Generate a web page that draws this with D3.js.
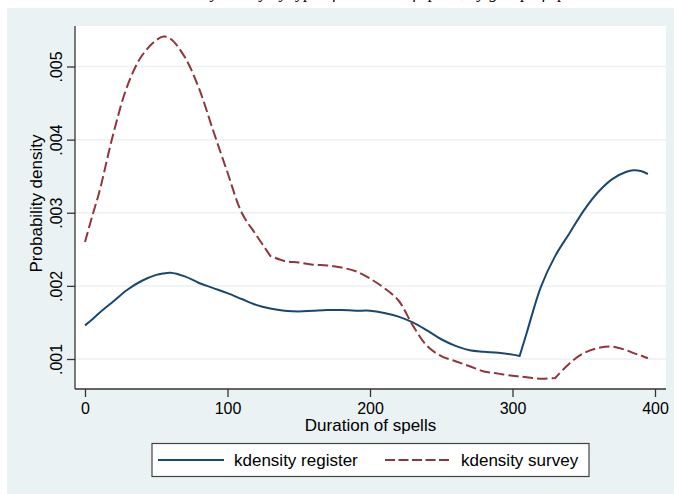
<!DOCTYPE html>
<html>
<head>
<meta charset="utf-8">
<script src="https://cdn.jsdelivr.net/npm/d3@7"></script>
<style>
  body { margin: 0; background: #fff; }
  text { font-family: "Liberation Sans", Arial, sans-serif; fill: #000; }
</style>
</head>
<body>
<div id="chart-area"></div>
<script>
// values (density in units of 0.001)
const durations = [0, 5, 10, 20, 30, 40, 50, 55, 60, 70, 80, 90, 100, 110, 120, 130, 140, 150, 160, 170, 180, 190,
  200, 210, 220, 230, 240, 250, 260, 270, 280, 290, 300, 305, 310, 320, 330, 340, 350, 360, 370, 380, 385, 390, 395];
const register = [1.46, 1.54, 1.63, 1.79, 1.95, 2.07, 2.15, 2.17, 2.18, 2.13, 2.04, 1.97, 1.90, 1.82, 1.74, 1.69, 1.66,
  1.65, 1.66, 1.67, 1.67, 1.66, 1.66, 1.63, 1.58, 1.50, 1.39, 1.27, 1.18, 1.12, 1.10, 1.085, 1.06, 1.04, 1.36, 1.99,
  2.41, 2.72, 3.03, 3.28, 3.46, 3.56, 3.58, 3.57, 3.53];
const survey = [2.60, 2.95, 3.28, 4.09, 4.75, 5.15, 5.36, 5.41, 5.38, 5.13, 4.70, 4.12, 3.55, 3.00, 2.70, 2.41, 2.34,
  2.32, 2.29, 2.28, 2.25, 2.20, 2.10, 1.97, 1.80, 1.46, 1.18, 1.04, 0.97, 0.90, 0.83, 0.80, 0.77, 0.76, 0.75, 0.73,
  0.74, 0.94, 1.08, 1.15, 1.17, 1.12, 1.08, 1.05, 1.01];
// durations where the curves turn sharply
const registerKinks = [305];
const surveyKinks = [130, 330];
const xTicks = [0, 100, 200, 300, 400];
const yTicks = [0.001, 0.002, 0.003, 0.004, 0.005];
const seriesNames = ['kdensity register', 'kdensity survey'];

const W = 674, H = 494;
const PLOT = { LEFT: 75, RIGHT: 666, TOP: 26, BOTTOM: 389 };
const FONT = 17;
const TICK_FONT = 16;

const svg = d3.select('#chart-area').append('svg')
  .attr('width', W).attr('height', H);

// graph region background
svg.append('rect')
  .attr('x', 7).attr('y', 8).attr('width', W - 7).attr('height', H - 8)
  .attr('fill', '#eaf2f3');

// title, mostly cut off by the top of the picture
svg.append('text')
  .attr('x', 355).attr('y', -2)
  .attr('text-anchor', 'middle')
  .style('font-family', '"Liberation Serif", serif')
  .style('font-style', 'italic')
  .attr('font-size', 17)
  .text('Kernel density survey by type of duration of spells, by group of spells');

svg.append('rect')
  .attr('x', PLOT.LEFT).attr('y', PLOT.TOP)
  .attr('width', PLOT.RIGHT - PLOT.LEFT).attr('height', PLOT.BOTTOM - PLOT.TOP)
  .attr('fill', '#fff');

const x = d3.scaleLinear().domain([0, 400]).range([85, 655]);
const y = d3.scaleLinear().domain([0.001, 0.005]).range([359, 66.5]);

// gridlines
svg.append('g').selectAll('line').data(yTicks).enter().append('line')
  .attr('x1', PLOT.LEFT).attr('x2', PLOT.RIGHT)
  .attr('y1', d => y(d)).attr('y2', d => y(d))
  .attr('stroke', '#eaf2f3').attr('stroke-width', 1.5);

// axes
const xAxis = svg.append('g')
  .attr('transform', `translate(0,${PLOT.BOTTOM})`)
  .call(d3.axisBottom(x).tickValues(xTicks).tickSize(8).tickSizeOuter(0).tickPadding(6));
xAxis.select('.domain').attr('d', `M${PLOT.LEFT},0H${PLOT.RIGHT}`);

const yAxis = svg.append('g')
  .attr('transform', `translate(${PLOT.LEFT},0)`)
  .call(d3.axisLeft(y).tickValues(yTicks).tickSize(8).tickSizeOuter(0)
    .tickFormat(d => d3.format('.3f')(d).replace(/^0/, '')));
yAxis.select('.domain').attr('d', `M0,${PLOT.TOP}V${PLOT.BOTTOM}`);

[xAxis, yAxis].forEach(a => {
  a.selectAll('.domain, .tick line').attr('stroke', '#333').attr('stroke-width', 1.3);
  a.selectAll('text').attr('font-size', TICK_FONT).attr('fill', '#000')
    .style('font-family', '"Liberation Sans", Arial, sans-serif');
});

yAxis.selectAll('.tick text')
  .attr('x', null).attr('dy', null)
  .attr('text-anchor', 'middle')
  .attr('transform', 'translate(-13,0) rotate(-90)')
  .attr('y', 0);

// axis titles
svg.append('text')
  .attr('x', (PLOT.LEFT + PLOT.RIGHT) / 2).attr('y', 431)
  .attr('text-anchor', 'middle').attr('font-size', FONT)
  .text('Duration of spells');

svg.append('text')
  .attr('transform', `translate(42,${(PLOT.TOP + PLOT.BOTTOM) / 2 - 4}) rotate(-90)`)
  .attr('text-anchor', 'middle').attr('font-size', FONT)
  .text('Probability density');

// smooth line, but with sharp corners at the kinks
const gen = d3.line()
  .x(d => x(d[0]))
  .y(d => y(d[1] / 1000))
  .curve(d3.curveCatmullRom.alpha(0.5));

const linePath = (vals, kinks) => {
  const pts = durations.map((t, i) => [t, vals[i]]);
  const cuts = [0, ...kinks.map(k => durations.indexOf(k)), pts.length - 1];
  let d = '';
  for (let j = 0; j < cuts.length - 1; j++) {
    const seg = gen(pts.slice(cuts[j], cuts[j + 1] + 1));
    d += j === 0 ? seg : 'L' + seg.slice(1);
  }
  return d;
};

svg.append('path')
  .attr('d', linePath(register, registerKinks))
  .attr('fill', 'none').attr('stroke', '#1a476f').attr('stroke-width', 2);

svg.append('path')
  .attr('d', linePath(survey, surveyKinks))
  .attr('fill', 'none').attr('stroke', '#90353b').attr('stroke-width', 2)
  .attr('stroke-dasharray', '10.5,4');

// legend
const lg = svg.append('g');
lg.append('rect')
  .attr('x', 152).attr('y', 443.5).attr('width', 437).attr('height', 33)
  .attr('fill', '#fff').attr('stroke', '#444').attr('stroke-width', 1.2);
const legendItems = [
  { name: seriesNames[0], color: '#1a476f', dash: null, x1: 158, x2: 224, tx: 234 },
  { name: seriesNames[1], color: '#90353b', dash: '10,3.5', x1: 385, x2: 452, tx: 461 }
];
legendItems.forEach(d => {
  lg.append('line')
    .attr('x1', d.x1).attr('x2', d.x2).attr('y1', 460).attr('y2', 460)
    .attr('stroke', d.color).attr('stroke-width', 2)
    .attr('stroke-dasharray', d.dash);
  lg.append('text')
    .attr('x', d.tx).attr('y', 466).attr('font-size', FONT)
    .text(d.name);
});
</script>
</body>
</html>
